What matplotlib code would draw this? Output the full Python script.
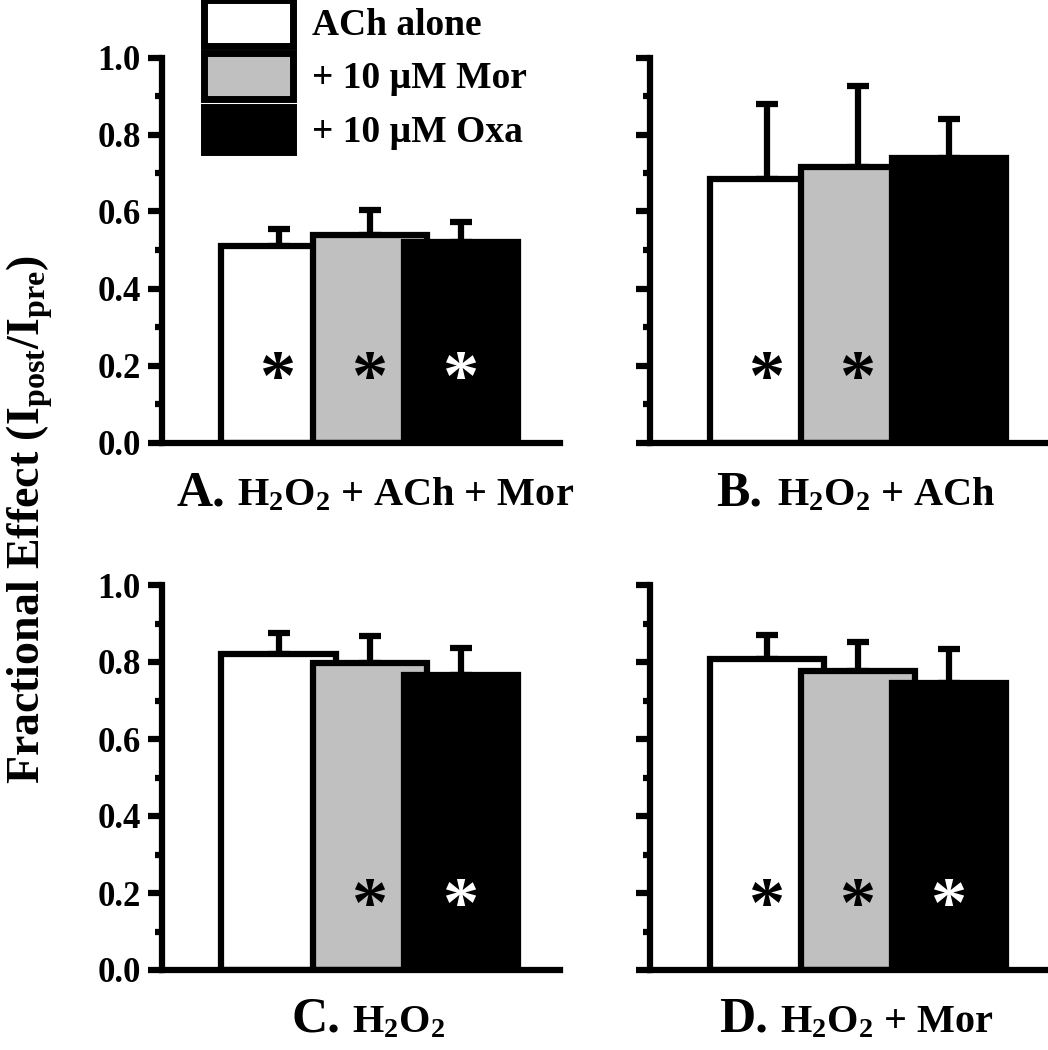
import numpy as np
import matplotlib
matplotlib.use("Agg")
import matplotlib.pyplot as plt
from matplotlib.patches import Patch

plt.rcParams['font.family'] = 'Liberation Serif'
plt.rcParams['font.weight'] = 'bold'
plt.rcParams['mathtext.fontset'] = 'custom'
plt.rcParams['mathtext.rm'] = 'Liberation Serif:bold'
plt.rcParams['mathtext.it'] = 'Liberation Serif:bold'
plt.rcParams['mathtext.bf'] = 'Liberation Serif:bold'
plt.rcParams['mathtext.default'] = 'rm'

# data
series = ['ACh alone', '+ 10 \u00b5M Mor', '+ 10 \u00b5M Oxa']
colors = ['white', '#c0c0c0', 'black']
star_colors = ['black', 'black', 'white']

panel_letters = ['A.', 'B.', 'C.', 'D.']
panel_names = ['H$_2$O$_2$ + ACh + Mor', 'H$_2$O$_2$ + ACh', 'H$_2$O$_2$', 'H$_2$O$_2$ + Mor']

means_A = [0.51, 0.54, 0.52]
errs_A = [0.045, 0.065, 0.053]
means_B = [0.685, 0.715, 0.74]
errs_B = [0.195, 0.21, 0.10]
means_C = [0.82, 0.797, 0.765]
errs_C = [0.055, 0.07, 0.072]
means_D = [0.807, 0.776, 0.745]
errs_D = [0.063, 0.077, 0.09]

# significance flags (asterisk at 0.2)
sig_A = [1, 1, 1]
sig_B = [1, 1, 0]
sig_C = [0, 1, 1]
sig_D = [1, 1, 1]

means = [means_A, means_B, means_C, means_D]
errs = [errs_A, errs_B, errs_C, errs_D]
sigs = [sig_A, sig_B, sig_C, sig_D]

W, H = 1048, 1050
fig = plt.figure(figsize=(W / 100, H / 100), dpi=100)

# axes rectangles (pixels): left, bottom(y from top)
boxes = [(161.7, 442.5), (650, 442.5), (161.7, 970), (650, 970)]
ax_w, ax_h = 398, 385
# title positions: right edge of letter, left edge of name, baseline (px)
title_pos = [(225, 237, 505), (762, 777, 505), (340, 352, 1032), (768, 780, 1032)]

lw = 4.5
x = np.arange(3)
for i in range(4):
    l, b = boxes[i]
    ax = fig.add_axes([l / W, (H - b) / H, ax_w / W, ax_h / H])
    ax.bar(x, means[i], width=1.25, color=colors, edgecolor='black', linewidth=lw, zorder=2)
    ax.errorbar(x, means[i], yerr=[np.zeros(3), errs[i]], fmt='none', ecolor='black',
                elinewidth=lw, capsize=8, capthick=lw, zorder=1)
    for j in range(3):
        if sigs[i][j]:
            ax.annotate('*', xy=(x[j], 0.2), xytext=(0, -24), textcoords='offset points',
                        ha='center', va='baseline', fontsize=52, color=star_colors[j], zorder=5)
    ax.set_xlim(-1.28, 3.08)
    ax.set_ylim(0, 1.0)
    for s in ['top', 'right']:
        ax.spines[s].set_visible(False)
    for s in ['left', 'bottom']:
        ax.spines[s].set_linewidth(lw)
    ax.set_xticks([])
    ax.set_yticks(np.arange(0, 1.01, 0.2))
    ax.set_yticks(np.arange(0.1, 1.0, 0.2), minor=True)
    ax.tick_params(axis='y', which='major', length=10, width=lw, pad=5, labelsize=25)
    ax.tick_params(axis='y', which='minor', length=5, width=lw)
    if i in (0, 2):
        ax.set_yticklabels(['%.1f' % v for v in np.arange(0, 1.01, 0.2)])
    else:
        ax.set_yticklabels([])
    ax.patch.set_alpha(0)

    r, nl, base = title_pos[i]
    fig.text(r / W, (H - base) / H, panel_letters[i], ha='right', va='baseline', fontsize=36)
    fig.text(nl / W, (H - base) / H, panel_names[i], ha='left', va='baseline', fontsize=29)

fig.text(30 / W, 0.505, 'Fractional Effect (I$_{post}$/I$_{pre}$)', rotation=90,
         ha='center', va='center', fontsize=33)

handles = [Patch(facecolor=c, edgecolor='black', linewidth=5) for c in colors]
fig.legend(handles, series, loc='upper left', bbox_to_anchor=(204 / W, 1.0),
           frameon=False, fontsize=27, handlelength=2.37, handleheight=1.5,
           labelspacing=0.2, handletextpad=0.5, borderpad=0, borderaxespad=0)

fig.savefig('out.png', dpi=100)
